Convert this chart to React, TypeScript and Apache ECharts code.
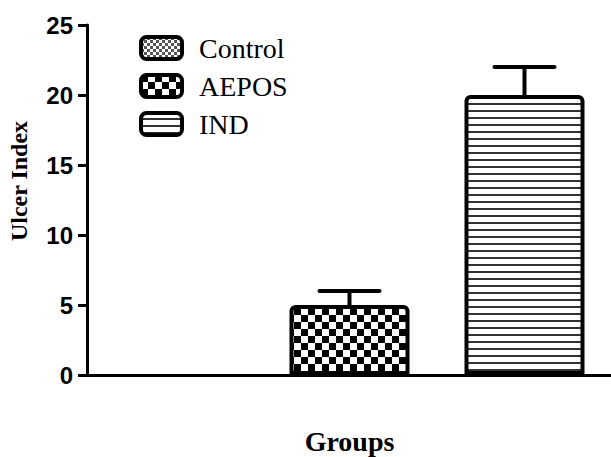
import React, { useEffect, useRef } from "react";
import * as echarts from "echarts";

const categories = ["Control", "AEPOS", "IND"];
const means = [0, 5, 20];
const errors = [0, 1, 2];
const yTicks = [0, 5, 10, 15, 20, 25];

function makePattern(kind: string): HTMLCanvasElement {
  const c = document.createElement("canvas");
  const ctx = c.getContext("2d")!;
  if (kind === "fine") {
    c.width = 6; c.height = 6;
    ctx.fillStyle = "#fff"; ctx.fillRect(0, 0, 6, 6);
    ctx.fillStyle = "#555";
    ctx.fillRect(0, 0, 3, 3); ctx.fillRect(3, 3, 3, 3);
  } else if (kind === "checker") {
    c.width = 14; c.height = 14;
    ctx.fillStyle = "#fff"; ctx.fillRect(0, 0, 14, 14);
    ctx.fillStyle = "#000";
    ctx.fillRect(0, 0, 7, 7); ctx.fillRect(7, 7, 7, 7);
  } else {
    c.width = 8; c.height = 7;
    ctx.fillStyle = "#fff"; ctx.fillRect(0, 0, 8, 7);
    ctx.fillStyle = "#333";
    ctx.fillRect(0, 5, 8, 2);
  }
  return c;
}

const SERIF = "'Liberation Serif', 'Times New Roman', serif";

export default function App() {
  const ref = useRef<HTMLDivElement>(null);
  useEffect(() => {
    const chart = echarts.init(ref.current!, null, { renderer: "svg" });
    const kinds = ["fine", "checker", "lines"];
    const barSeries = categories.map((name, i) => ({
      name,
      type: "bar",
      barWidth: 120,
      barGap: "-100%",
      data: categories.map((_, j) => (j === i ? means[j] : "-")),
      itemStyle: {
        color: { image: makePattern(kinds[i]), repeat: "repeat" },
        borderColor: "#000",
        borderWidth: means[i] === 0 ? 0 : 4,
        borderRadius: [4, 4, 0, 0],
      },
      z: 2,
    }));
    const errSeries = {
      type: "custom",
      name: "err",
      z: 3,
      data: categories.map((_, i) => [i, means[i], errors[i]]),
      renderItem: (params: any, api: any) => {
        const idx = api.value(0);
        const m = api.value(1);
        const e = api.value(2);
        if (!e) return null;
        const p0 = api.coord([idx, m]);
        const p1 = api.coord([idx, m + e]);
        const style = { stroke: "#000", lineWidth: 4, lineCap: "round" };
        return {
          type: "group",
          children: [
            { type: "line", shape: { x1: p0[0], y1: p0[1], x2: p1[0], y2: p1[1] }, style },
            { type: "line", shape: { x1: p1[0] - 30, y1: p1[1], x2: p1[0] + 30, y2: p1[1] }, style },
          ],
        };
      },
    };
    chart.setOption({
      animation: false,
      backgroundColor: "#fff",
      textStyle: { fontFamily: SERIF },
      grid: {
        left: 87, top: 25, width: 525, height: 350,
        containLabel: false,
        outerBoundsMode: "none",
      },
      legend: {
        data: categories.map((name) => ({
          name,
          itemStyle: { borderColor: "#000", borderWidth: 4 },
        })),
        orient: "vertical",
        left: 139,
        top: 34,
        padding: 0,
        itemWidth: 41,
        itemHeight: 22,
        itemGap: 10,
        icon: "roundRect",
        formatter: "{t|{name}}",
        textStyle: {
          fontFamily: SERIF,
          fontSize: 28,
          color: "#000",
          rich: {
            t: { fontFamily: SERIF, fontSize: 28, color: "#000", padding: [0, 0, 0, 12] },
          },
        },
      },
      xAxis: {
        type: "category",
        data: categories,
        name: "Groups",
        nameLocation: "middle",
        nameGap: 52,
        nameTextStyle: {
          fontFamily: SERIF,
          fontWeight: "bold",
          fontSize: 28,
          color: "#000",
        },
        axisLine: { lineStyle: { color: "#000", width: 3 } },
        axisTick: {
          alignWithLabel: true,
          length: 10,
          interval: (i: number) => i === 1,
          lineStyle: { color: "#000", width: 3 },
        },
        axisLabel: { show: false },
      },
      yAxis: {
        type: "value",
        min: yTicks[0],
        max: yTicks[yTicks.length - 1],
        interval: 5,
        name: "Ulcer Index",
        nameLocation: "middle",
        nameGap: 56,
        nameTextStyle: {
          fontFamily: SERIF,
          fontWeight: "bold",
          fontSize: 24,
          color: "#000",
          padding: [0, 0, 0, 38],
        },
        splitLine: { show: false },
        axisLine: { show: true, lineStyle: { color: "#000", width: 3 } },
        axisTick: { show: true, length: 9, lineStyle: { color: "#000", width: 3 } },
        axisLabel: {
          margin: 14,
          fontFamily: "'Liberation Sans', Arial, sans-serif",
          fontWeight: "bold",
          fontSize: 24,
          color: "#000",
        },
      },
      series: [...barSeries, errSeries],
    });
    return () => chart.dispose();
  }, []);
  return (
    <div
      ref={ref}
      style={{ position: "fixed", left: 0, top: 0, width: 611, height: 457, background: "#fff" }}
    />
  );
}
